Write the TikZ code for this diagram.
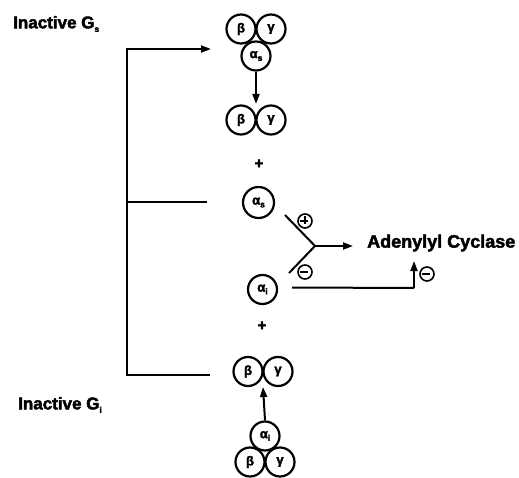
\documentclass[tikz,border=0pt]{standalone}
\usepackage{fontspec}
\setmainfont{Liberation Sans}
\newfontfamily\heavy[FakeBold=2.5]{Liberation Sans Bold}
\usetikzlibrary{arrows.meta}
\tikzset{
  sub/.style={circle,draw,line width=2.2pt,minimum size=29pt,inner sep=0pt,font=\heavy\fontsize{13}{13}\selectfont},
  sign/.style={circle,draw,line width=1.6pt,minimum size=14pt,inner sep=0pt},
  lbl/.style={font=\heavy\fontsize{17}{17}\selectfont,inner sep=0pt},
  plusl/.style={font=\heavy\fontsize{15}{15}\selectfont,inner sep=0pt},
  conn/.style={line width=2pt},
  arr/.style={line width=2pt,-{Triangle[length=10pt,width=7pt]}},
}
\newcommand{\subsc}[1]{\raisebox{-0.4ex}{\fontsize{8.5}{8.5}\selectfont #1}}
\begin{document}
\begin{tikzpicture}[x=1pt,y=-1pt]
\useasboundingbox (0,0) rectangle (519,478);
% labels
\node[lbl,anchor=west] (gs) at (13,24) {Inactive G\subsc{s}};
\node[lbl,anchor=west] (gi) at (18,405) {Inactive G\subsc{i}};
\node[lbl,anchor=west,font=\heavy\fontsize{18}{18}\selectfont] (ac) at (367,243) {Adenylyl Cyclase};
% top complex
\node[sub] (b1) at (241,29) {β};
\node[sub] (g1) at (271,29) {γ};
\node[sub] (as1) at (256,56) {α\subsc{s}};
% beta gamma 2
\node[sub] (b2) at (241,120) {β};
\node[sub] (g2) at (271,120) {γ};
\coordinate (bg2) at (256,104);
\node[plusl] (p1) at (259,164) {+};
\node[sub,minimum size=31pt] (as2) at (258.5,202.5) {α\subsc{s}};
\node[sub] (ai2) at (262.5,289.5) {α\subsc{i}};
\node[plusl] (p2) at (262,326) {+};
% beta gamma 3
\node[sub] (b3) at (248,371.5) {β};
\node[sub] (g3) at (278,371.5) {γ};
\coordinate (bg3) at (263,387);
% bottom complex
\node[sub] (ai4) at (265,436) {α\subsc{i}};
\node[sub] (b4) at (250,462) {β};
\node[sub] (g4) at (280,462) {γ};
% arrows between complexes
\draw[arr] (as1.south) -- (bg2);
\draw[arr] (ai4.north) -- (bg3);
% Y junction
\coordinate (ua) at (285,215);
\coordinate (la) at (289,273);
\coordinate (yj) at (315,246);
\coordinate (ye) at (353,246);
\draw[conn] (ua) -- (yj) -- (la);
\draw[arr] (yj) -- (ye);
\node[sign] (plus) at (305,221) {};
\draw[line width=1.6pt] (plus.west) ++(3,0) -- ++(8,0) (plus.north) ++(0,3) -- ++(0,8);
\node[sign] (minus1) at (305,272) {};
\draw[line width=1.6pt] (minus1.west) ++(3,0) -- ++(8,0);
% alpha i inhibition
\coordinate (ic) at (414,288);
\coordinate (it) at (414,261);
\draw[conn] (ai2.east) ++(14,-2) coordinate (ai2s) -- (ic);
\draw[arr] (ic) -- (it);
\node[sign] (minus2) at (427,274) {};
\draw[line width=1.6pt] (minus2.west) ++(3,0) -- ++(8,0);
% left bracket
\coordinate (lt) at (127,49);
\coordinate (lm) at (127,202);
\coordinate (lb) at (127,375);
\coordinate (et) at (211,49);
\coordinate (em) at (207,202);
\coordinate (eb) at (210,375);
\draw[conn] (et) ++(-5,0) -- (lt) -- (lb) -- (eb);
\draw[arr] (lt) -- (et);
\draw[conn] (lm) -- (em);
\end{tikzpicture}
\end{document}
